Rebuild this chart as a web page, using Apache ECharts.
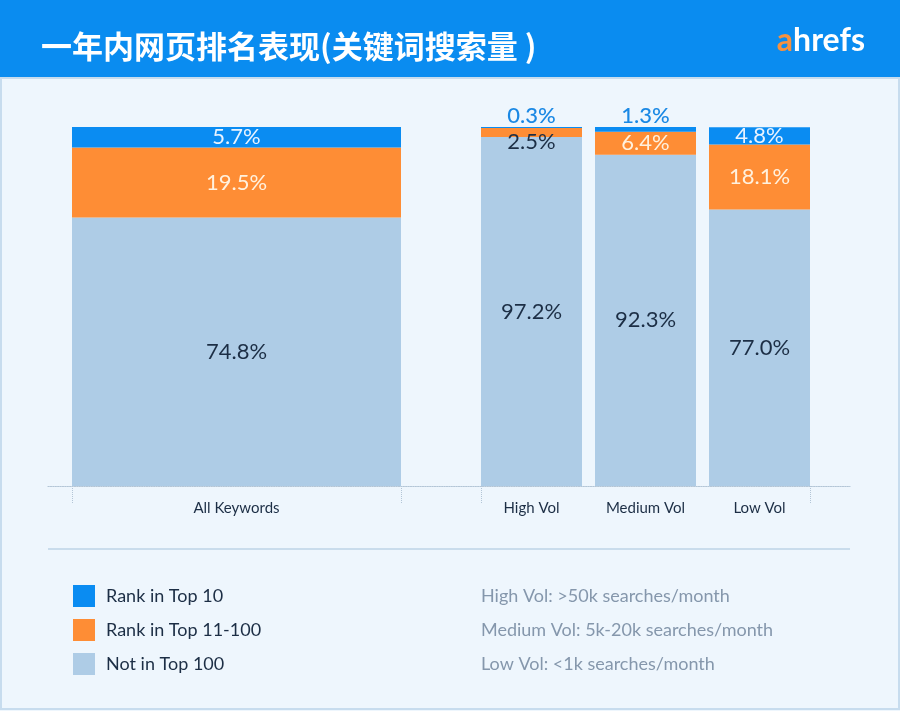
<!DOCTYPE html>
<html>
<head>
<meta charset="utf-8">
<script src="https://cdn.jsdelivr.net/npm/echarts@6/dist/echarts.min.js"></script>
<style>
html,body{margin:0;padding:0;background:#eef6fd;}
#c{width:900px;height:711px;}
</style>
</head>
<body>
<div id="c"></div>
<script>
// ---- data ----
var titleText = '一年内网页排名表现(关键词搜索量 )';
var seriesNames = ['Rank in Top 10', 'Rank in Top 11-100', 'Not in Top 100'];
var allCategories = ['All Keywords'];
var volCategories = ['High Vol', 'Medium Vol', 'Low Vol'];
var allTop10 = [5.7];
var allTop100 = [19.5];
var allNot = [74.8];
var volTop10 = [0.3, 1.3, 4.8];
var volTop100 = [2.5, 6.4, 18.1];
var volNot = [97.2, 92.3, 77.0];
var notes = ['High Vol: >50k searches/month', 'Medium Vol: 5k-20k searches/month', 'Low Vol: <1k searches/month'];

var C_BLUE = '#0a8cf2', C_ORANGE = '#fe8d35', C_LIGHT = '#aecce6';
var DARK = '#1c2e45';
var FONT = 'Lato, "Noto Sans", sans-serif';

function fmt(p){ return p.value.toFixed(1) + '%'; }

function top10Data(arr){
  return arr.map(function(v){
    if (v < 3) {
      return {value: v, label: {position: 'top', distance: 0, color: '#1a88e4', fontWeight: 500}};
    }
    return {value: v};
  });
}
function top100Data(arr){
  return arr.map(function(v){
    if (v < 3) {
      return {value: v, label: {color: DARK, offset: [0, 9]}};
    }
    return {value: v};
  });
}

var labelBase = {show: true, position: 'inside', fontSize: 22, fontFamily: FONT, formatter: fmt};

var option = {
  backgroundColor: '#eef6fd',
  animation: false,
  title: [
    {text: titleText, left: 36, top: 26, z: 10,
     textStyle: {color: '#ffffff', fontSize: 31, fontWeight: 'bold', fontFamily: '"Noto Sans CJK SC", sans-serif'}},
    {text: '{a|a}{b|hrefs}', right: 30, top: 20, z: 10,
     textStyle: {rich: {
       a: {color: '#f6913e', fontSize: 32, fontFamily: FONT, fontWeight: 'bold'},
       b: {color: '#ffffff', fontSize: 32, fontFamily: FONT, fontWeight: 'bold'}
     }}},
    {text: notes.join('\n'), left: 476, top: 574, z: 10,
     textStyle: {color: '#8597ac', fontSize: 18, fontWeight: 'normal', fontFamily: FONT, lineHeight: 34}}
  ],
  legend: {
    orient: 'vertical', left: 68, top: 580,
    data: seriesNames,
    icon: 'rect', itemWidth: 22, itemHeight: 22, itemGap: 12,
    selectedMode: false,
    textStyle: {color: DARK, fontSize: 18, fontFamily: FONT, padding: [0, 0, 0, 6]}
  },
  graphic: [
    {type: 'rect', z: -10, shape: {x: 0, y: 0, width: 900, height: 78}, style: {fill: '#0a8cf0'}},
    {type: 'rect', z: -10, shape: {x: 1, y: 78, width: 898, height: 631}, style: {fill: 'none', stroke: '#c7dcee', lineWidth: 2}},
    {type: 'line', z: -5, shape: {x1: 48, y1: 549, x2: 850, y2: 549}, style: {stroke: '#bcd3e6', lineWidth: 1.5}}
  ],
  grid: [
    {left: 72, width: 329, top: 127, bottom: 225},
    {left: 474.5, width: 342, top: 127, bottom: 225},
    {left: 481, width: 329, top: 127, bottom: 225},
    {left: 48, width: 802, top: 127, bottom: 225}
  ],
  xAxis: [
    {type: 'category', gridIndex: 0, data: allCategories,
     axisLine: {show: false},
     axisTick: {show: true, length: 18, lineStyle: {color: '#b3c5d6', type: 'dotted'}},
     axisLabel: {color: DARK, fontSize: 15, fontFamily: FONT, margin: 15}},
    {type: 'category', gridIndex: 1, data: volCategories,
     axisLine: {show: false}, axisTick: {show: false},
     axisLabel: {color: DARK, fontSize: 15, fontFamily: FONT, margin: 15}},
    {type: 'category', gridIndex: 2, data: [''],
     axisLine: {show: false},
     axisTick: {show: true, length: 18, lineStyle: {color: '#b3c5d6', type: 'dotted'}},
     axisLabel: {show: false}},
    {type: 'value', gridIndex: 3, min: 0, max: 1,
     axisLine: {show: true, lineStyle: {color: '#b3c5d6', type: 'dotted', width: 1.2}},
     axisTick: {show: false}, axisLabel: {show: false}, splitLine: {show: false}}
  ],
  yAxis: [0, 1, 2, 3].map(function(i){
    return {type: 'value', gridIndex: i, min: 0, max: 100, show: false, splitLine: {show: false}};
  }),
  series: [
    {name: seriesNames[2], type: 'bar', stack: 'all', xAxisIndex: 0, yAxisIndex: 0, barWidth: '100%',
     data: allNot, itemStyle: {color: C_LIGHT}, label: Object.assign({}, labelBase, {color: DARK})},
    {name: seriesNames[1], type: 'bar', stack: 'all', xAxisIndex: 0, yAxisIndex: 0, barWidth: '100%',
     data: allTop100, itemStyle: {color: C_ORANGE}, label: Object.assign({}, labelBase, {color: '#fff1de'})},
    {name: seriesNames[0], type: 'bar', stack: 'all', xAxisIndex: 0, yAxisIndex: 0, barWidth: '100%',
     data: allTop10, itemStyle: {color: C_BLUE}, label: Object.assign({}, labelBase, {color: '#e8f3ff'})},
    {name: seriesNames[2], type: 'bar', stack: 'vol', xAxisIndex: 1, yAxisIndex: 1, barWidth: '88.6%',
     data: volNot, itemStyle: {color: C_LIGHT}, label: Object.assign({}, labelBase, {color: DARK})},
    {name: seriesNames[1], type: 'bar', stack: 'vol', xAxisIndex: 1, yAxisIndex: 1, barWidth: '88.6%',
     data: top100Data(volTop100), itemStyle: {color: C_ORANGE}, label: Object.assign({}, labelBase, {color: '#fff1de'})},
    {name: seriesNames[0], type: 'bar', stack: 'vol', xAxisIndex: 1, yAxisIndex: 1, barWidth: '88.6%',
     data: top10Data(volTop10), itemStyle: {color: C_BLUE}, label: Object.assign({}, labelBase, {color: '#e8f3ff'})}
  ]
};

var chart = echarts.init(document.getElementById('c'), null, {renderer: 'canvas'});
chart.setOption(option);
</script>
</body>
</html>
